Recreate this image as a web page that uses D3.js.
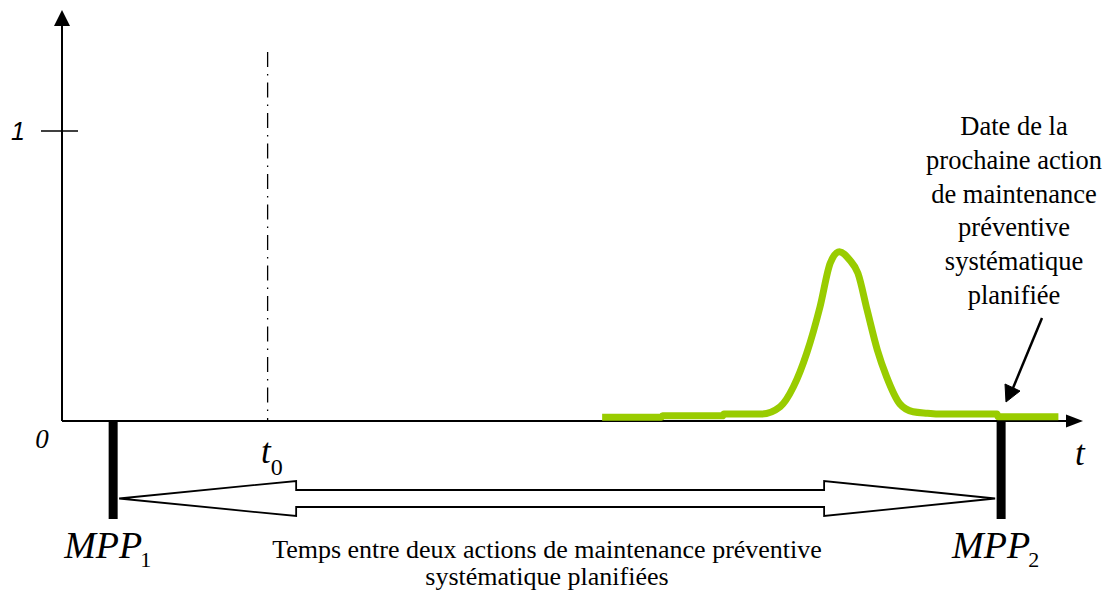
<!DOCTYPE html>
<html>
<head>
<meta charset="utf-8">
<script src="https://cdn.jsdelivr.net/npm/d3@7"></script>
<style>
  html, body { margin: 0; padding: 0; background: #fff; }
</style>
</head>
<body>
<div id="chart"></div>
<script>
// Values (t in arbitrary units, 0..100 along the axis)
const curveT = [52.8, 58.6, 58.7, 64.6, 64.7, 68.4, 70.2, 71.5, 72.8, 74.1, 75.1, 76.0,
  77.0, 77.8, 78.7, 79.7, 80.6, 81.9, 83.2, 84.6, 85.8, 91.4, 91.5, 97.4];
const curveP = [0.013, 0.013, 0.018, 0.018, 0.024, 0.024, 0.049, 0.118, 0.234, 0.394, 0.545, 0.584,
  0.555, 0.510, 0.383, 0.245, 0.153, 0.059, 0.032, 0.027, 0.024, 0.024, 0.015, 0.015];
const mppT = [5.0, 91.8];
const mppLabels = ['1', '2'];
const t0 = 20.1;
const yTicks = [1];
const rightNote = ['Date de la', 'prochaine action', 'de maintenance', 'préventive',
  'systématique', 'planifiée'];
const bottomNote = ['Temps entre deux actions de maintenance préventive',
  'systématique planifiées'];

const W = 1117;
const H = 593;
const SERIF = '"Liberation Serif", "Times New Roman", Times, serif';

const svg = d3.select('#chart')
  .append('svg')
  .attr('width', W)
  .attr('height', H)
  .attr('font-family', SERIF);

const x = d3.scaleLinear().domain([0, 100]).range([62, 1085]);
const y = d3.scaleLinear().domain([0, 1]).range([421, 131]);

// y axis with arrow head
svg.append('line')
  .attr('x1', x(0)).attr('x2', x(0))
  .attr('y1', y(0)).attr('y2', 22)
  .attr('stroke', '#000').attr('stroke-width', 2);
svg.append('path')
  .attr('d', `M${x(0)},10 L${x(0) - 8},26 L${x(0) + 8},26 Z`)
  .attr('fill', '#000');

// x axis with arrow head
svg.append('line')
  .attr('x1', x(0)).attr('x2', 1070)
  .attr('y1', y(0)).attr('y2', y(0))
  .attr('stroke', '#000').attr('stroke-width', 2);
svg.append('path')
  .attr('d', `M1083,${y(0)} L1066,${y(0) - 6.5} L1066,${y(0) + 6.5} Z`)
  .attr('fill', '#000');

// y ticks
yTicks.forEach((v) => {
  svg.append('line')
    .attr('x1', x(0) - 21).attr('x2', x(0) + 16)
    .attr('y1', y(v)).attr('y2', y(v))
    .attr('stroke', '#000').attr('stroke-width', 1.5);
  svg.append('text')
    .attr('x', 18).attr('y', y(v) + 9)
    .attr('text-anchor', 'middle')
    .attr('font-family', '"Liberation Sans", Arial, sans-serif')
    .style('font-style', 'italic')
    .style('font-size', '25px')
    .text(v);
});

svg.append('text')
  .attr('x', 42).attr('y', 448)
  .attr('text-anchor', 'middle')
  .style('font-style', 'italic')
  .style('font-size', '27px')
  .text('0');

// t0 dash-dot line
svg.append('line')
  .attr('x1', x(t0)).attr('x2', x(t0))
  .attr('y1', 52).attr('y2', y(0))
  .attr('stroke', '#000').attr('stroke-width', 1.3)
  .attr('stroke-dasharray', '15 7 1.5 7');

const t0Label = svg.append('text')
  .attr('x', 261).attr('y', 463)
  .style('font-size', '35px');
t0Label.append('tspan').style('font-style', 'italic').text('t');
t0Label.append('tspan').attr('dy', 12).style('font-size', '24px').text('0');

svg.append('text')
  .attr('x', 1075).attr('y', 465)
  .style('font-size', '35px')
  .style('font-style', 'italic')
  .text('t');

// MPP bars and labels
mppT.forEach((t, i) => {
  svg.append('rect')
    .attr('x', x(t) - 4.5).attr('y', y(0))
    .attr('width', 9).attr('height', 98)
    .attr('fill', '#000');
  const lbl = svg.append('text')
    .attr('x', x(t) - 49).attr('y', 558)
    .style('font-size', '38px');
  lbl.append('tspan').style('font-style', 'italic').text('MPP');
  lbl.append('tspan').attr('dx', -2).attr('dy', 9).style('font-size', '22px').text(mppLabels[i]);
});

// double arrow between the two MPP
const xa = x(mppT[0]) + 6;
const xb = x(mppT[1]) - 6;
const yc = 498.5;
const headL = xa + 177;
const headR = xb - 171;
svg.append('path')
  .attr('d', [
    `M${xa},${yc}`,
    `L${headL},${yc - 17.5}`, `L${headL},${yc - 8.5}`,
    `L${headR},${yc - 8.5}`, `L${headR},${yc - 17.5}`,
    `L${xb},${yc}`,
    `L${headR},${yc + 17.5}`, `L${headR},${yc + 8.5}`,
    `L${headL},${yc + 8.5}`, `L${headL},${yc + 17.5}`, 'Z',
  ].join(' '))
  .attr('fill', '#fff')
  .attr('stroke', '#000')
  .attr('stroke-width', 1.8)
  .attr('stroke-linejoin', 'miter');

svg.append('g')
  .selectAll('text')
  .data(bottomNote)
  .join('text')
  .attr('x', 547)
  .attr('y', (d, i) => 558 + i * 27)
  .attr('text-anchor', 'middle')
  .style('font-size', '26px')
  .text((d) => d);

// right annotation
svg.append('g')
  .selectAll('text')
  .data(rightNote)
  .join('text')
  .attr('x', 1014)
  .attr('y', (d, i) => 135 + i * 33.8)
  .attr('text-anchor', 'middle')
  .style('font-size', '26.5px')
  .text((d) => d);

svg.append('line')
  .attr('x1', 1042).attr('y1', 318)
  .attr('x2', 1013).attr('y2', 388)
  .attr('stroke', '#000').attr('stroke-width', 2.5);
svg.append('path')
  .attr('d', 'M1006,402 L1005,384 L1020,391 Z')
  .attr('fill', '#000')
  .attr('stroke', '#000')
  .attr('stroke-width', 1);

// green density curve
svg.append('path')
  .datum(curveT.map((t, i) => [t, curveP[i]]))
  .attr('fill', 'none')
  .attr('stroke', '#99cc00')
  .attr('stroke-width', 7)
  .attr('stroke-linejoin', 'round')
  .attr('d', d3.line()
    .x((d) => x(d[0]))
    .y((d) => y(d[1]))
    .curve(d3.curveMonotoneX));
</script>
</body>
</html>
